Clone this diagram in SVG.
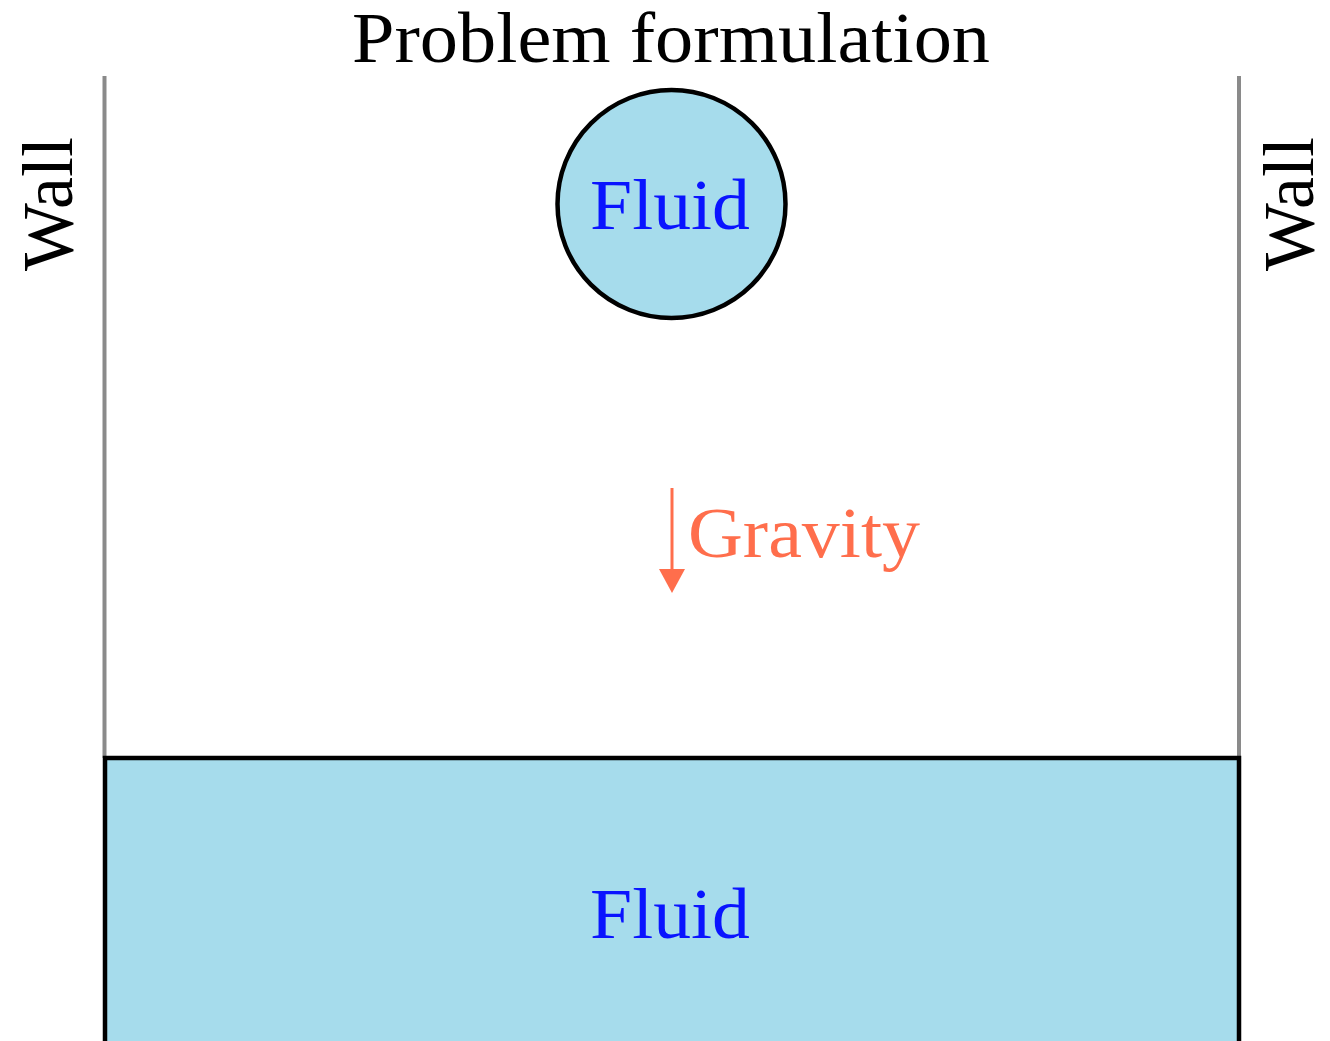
<svg xmlns="http://www.w3.org/2000/svg" width="1330" height="1041" viewBox="0 0 1330 1041">
<style>
  .t { font-family: "Liberation Serif", "DejaVu Serif", serif; font-size: 72px; }
  .fluid { fill: #a6dcec; stroke: #000; stroke-width: 4.5; }
  .wall { stroke: #8a8a8a; stroke-width: 4; fill: none; }
</style>
<rect width="1330" height="1041" fill="#fff"/>
<text class="t" x="352" y="62" textLength="638" lengthAdjust="spacingAndGlyphs" fill="#000">Problem formulation</text>
<g id="walls">
  <line class="wall" x1="104.5" y1="76" x2="104.5" y2="758"/>
  <line class="wall" x1="1239" y1="76" x2="1239" y2="758"/>
</g>
<g id="wall-left-label">
  <text class="t" transform="translate(72,204) rotate(-90)" text-anchor="middle" fill="#000">Wall</text>
</g>
<g id="wall-right-label">
  <text class="t" transform="translate(1313,204) rotate(-90)" text-anchor="middle" fill="#000">Wall</text>
</g>
<g id="droplet">
  <circle class="fluid" cx="671.5" cy="204" r="114"/>
  <text class="t" x="590" y="229" textLength="160" lengthAdjust="spacingAndGlyphs" fill="#0a14ff">Fluid</text>
</g>
<g id="pool">
  <rect class="fluid" x="105" y="758" width="1134" height="300"/>
  <text class="t" x="590" y="938" textLength="160" lengthAdjust="spacingAndGlyphs" fill="#0a14ff">Fluid</text>
</g>
<g id="connectors">
  <line x1="672" y1="488" x2="672" y2="572" stroke="#ff6e4c" stroke-width="3"/>
  <polygon points="659,569 685,569 672,593" fill="#ff6e4c"/>
</g>
<g id="gravity-label">
  <text class="t" x="688" y="557" textLength="232" lengthAdjust="spacingAndGlyphs" fill="#ff6e4c">Gravity</text>
</g>
</svg>
